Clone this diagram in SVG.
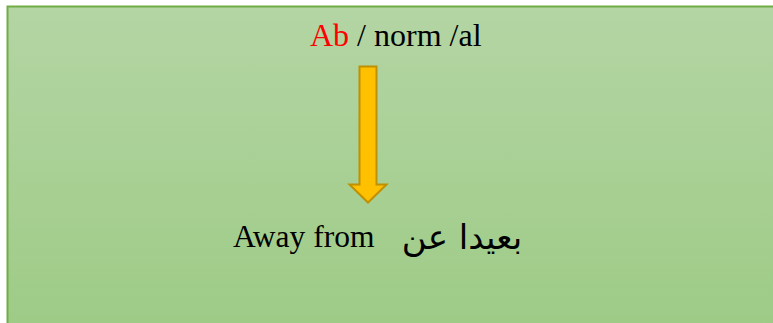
<svg xmlns="http://www.w3.org/2000/svg" width="773" height="323" viewBox="0 0 773 323">
<defs>
<linearGradient id="bg" x1="0" y1="0" x2="0" y2="1">
<stop offset="0" stop-color="#b4d5a4"/>
<stop offset="1" stop-color="#9dcb85"/>
</linearGradient>
</defs>
<style>
.t{font-family:'Liberation Serif','Times New Roman',serif;fill:#000}
.ar{font-family:'DejaVu Sans','Noto Sans',sans-serif;font-size:34px;fill:#000}
</style>
<rect width="773" height="323" fill="#ffffff"/>
<g id="panel">
<rect x="7.5" y="6.5" width="780" height="330" fill="url(#bg)" stroke="#70ad47" stroke-width="2"/>
</g>
<g id="title">
<text class="t" x="310" y="46" font-size="32"><tspan fill="#ff0000">Ab</tspan> / norm /al</text>
</g>
<g id="connectors">
<path d="M359.5 66.5 H376.5 V184.5 H386.5 L368 202.5 L349.5 184.5 H359.5 Z" fill="#ffc000" stroke="#bf9000" stroke-width="2"/>
</g>
<g id="meaning">
<text class="t" x="233" y="247" font-size="31.5">Away from</text>
<text class="ar" x="462" y="249" text-anchor="middle" direction="rtl">بعيدا عن</text>
</g>
</svg>
